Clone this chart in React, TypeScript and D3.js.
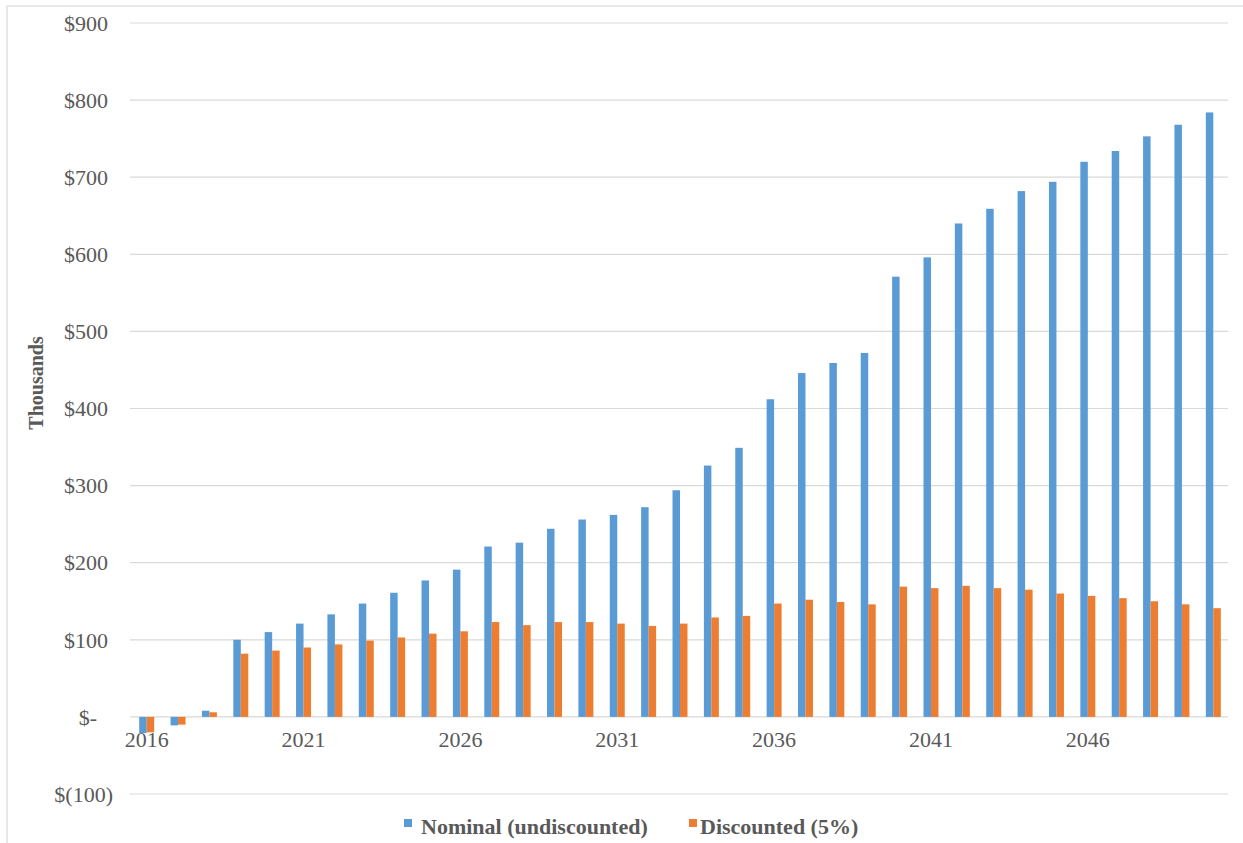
import React from "react";
import * as d3 from "d3";

// Annual cash flow, thousands of dollars
const years: number[] = d3.range(2016, 2051);
const nominal: number[] = [
  -21, -11, 8, 100, 110, 121, 133, 147, 161, 177, 191, 221, 226, 244, 256, 262, 272, 294,
  326, 349, 412, 446, 459, 472, 571, 596, 640, 659, 682, 694, 720, 734, 753, 768, 784,
];
const discounted: number[] = [
  -20, -10, 6, 82, 86, 90, 94, 99, 103, 108, 111, 123, 119, 123, 123, 121, 118, 121,
  129, 131, 147, 152, 149, 146, 169, 167, 170, 167, 165, 160, 157, 154, 150, 146, 141,
];
const yTicks: number[] = [-100, 0, 100, 200, 300, 400, 500, 600, 700, 800, 900];
const xTickYears: number[] = [2016, 2021, 2026, 2031, 2036, 2041, 2046];
const seriesNames: string[] = ["Nominal (undiscounted)", "Discounted (5%)"];
const seriesColors: string[] = ["#5B9BD5", "#ED7D31"];

const W = 1243;
const H = 843;
const FONT = '"Liberation Serif", "Times New Roman", serif';
const TEXT = "#595959";

function fmtMoney(v: number): string {
  if (v === 0) return "$-";
  if (v < 0) return `$(${Math.abs(v)})`;
  return `$${v}`;
}

export default function App() {
  const plotLeft = 131;
  const plotRight = 1229;
  const x = d3.scaleBand<number>().domain(years).range([plotLeft, plotRight]);
  const y = d3.scaleLinear().domain([-100, 900]).range([794, 23]);
  const step = x.step();
  const barW = step / (2 + 2.19);
  const groupW = barW * 2;

  const bar = (v: number) => ({ y: Math.min(y(v), y(0)), h: Math.abs(y(v) - y(0)) });

  return (
    <svg width={W} height={H} style={{ position: "absolute", left: 0, top: 0, display: "block" }}>
      <rect x={0} y={0} width={W} height={H} fill="#fff" />
      <rect x={7} y={6} width={W} height={H} fill="#fff" stroke="#d9d9d9" strokeWidth={1.2} />

      {/* gridlines */}
      {yTicks.map((t) => (
        <line key={`g${t}`} x1={plotLeft - 1} x2={plotRight - 1} y1={y(t)} y2={y(t)} stroke="#d9d9d9" strokeWidth={1.2} />
      ))}

      {/* y tick labels, accounting style */}
      {yTicks.map((t) => {
        const xEnd = t < 0 ? 113 : t === 0 ? 97 : 108;
        return (
          <text key={`yl${t}`} x={xEnd} y={y(t)} dy="0.35em" textAnchor="end" fontFamily={FONT} fontSize={22} fill={TEXT}>
            {fmtMoney(t)}
          </text>
        );
      })}

      {/* bars */}
      {years.map((yr, i) => {
        const x0 = (x(yr) as number) + step / 2 - groupW / 2;
        const b1 = bar(nominal[i]);
        const b2 = bar(discounted[i]);
        return (
          <g key={`b${yr}`}>
            <rect x={x0} y={b1.y} width={barW} height={b1.h} fill={seriesColors[0]} />
            <rect x={x0 + barW} y={b2.y} width={barW} height={b2.h} fill={seriesColors[1]} />
          </g>
        );
      })}

      {/* x tick labels */}
      {xTickYears.map((yr) => (
        <text key={`xl${yr}`} x={(x(yr) as number) + step / 2} y={747} textAnchor="middle" fontFamily={FONT} fontSize={22} fill={TEXT}>
          {yr}
        </text>
      ))}

      {/* axis title */}
      <text
        transform={`translate(43, ${383}) rotate(-90)`}
        textAnchor="middle"
        fontFamily={FONT}
        fontSize={20}
        fontWeight="bold"
        fill={TEXT}
      >
        Thousands
      </text>

      {/* legend */}
      <g>
        <rect x={404} y={819} width={8} height={8} fill={seriesColors[0]} />
        <text x={421} y={834} fontFamily={FONT} fontSize={22} fontWeight="bold" fill={TEXT}>
          {seriesNames[0]}
        </text>
        <rect x={689} y={819} width={8} height={8} fill={seriesColors[1]} />
        <text x={700} y={834} fontFamily={FONT} fontSize={22} fontWeight="bold" fill={TEXT}>
          {seriesNames[1]}
        </text>
      </g>
    </svg>
  );
}
